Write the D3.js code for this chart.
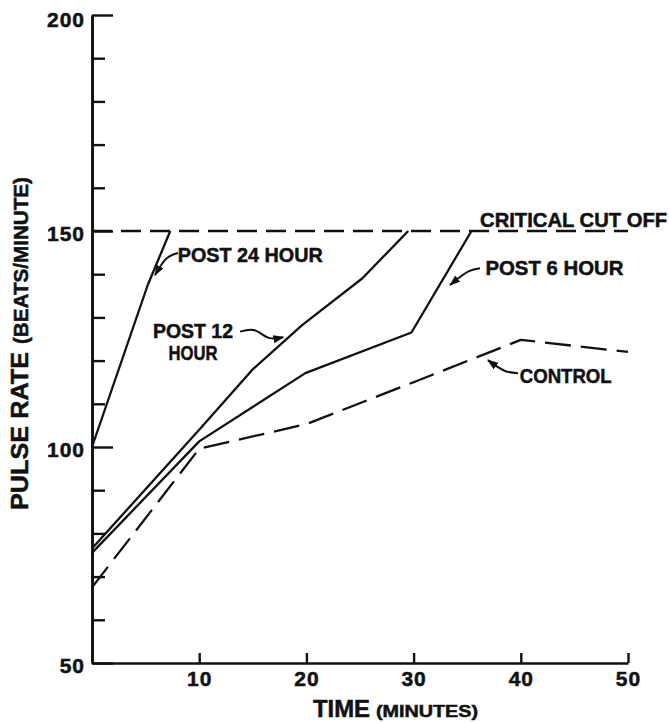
<!DOCTYPE html>
<html>
<head>
<meta charset="utf-8">
<script src="https://cdn.jsdelivr.net/npm/d3@7"></script>
<style>
  html, body { margin: 0; padding: 0; background: #fff; }
  svg { display: block; }
  text { font-family: "Liberation Sans", Arial, sans-serif; font-weight: bold; fill: #111; stroke: #111; stroke-width: 0.5px; }
</style>
</head>
<body>
<svg id="chart" width="669" height="723"></svg>
<script>
// ---- data ----
const xTicks = [10, 20, 30, 40, 50];
const yMajorTicks = [50, 100, 150, 200];
const yMinorTicks = [60, 70, 80, 90, 110, 120, 130, 140, 160, 170, 180, 190];

const post24Time = [0, 5.2, 7.3];
const post24Rate = [100, 137.5, 150];

const post12Time = [0, 10, 15, 19.6, 25.2, 29.5];
const post12Rate = [76.5, 104, 118, 128.2, 139, 150];

const post6Time = [0, 10, 19.9, 29.8, 35.4];
const post6Rate = [75.5, 101.3, 117.1, 126.5, 150];

const controlTime = [0, 10, 20, 30, 40, 50];
const controlRate = [67.5, 99.6, 105.3, 115, 124.8, 122];

const cutoffTime = [0, 50];
const cutoffRate = [150, 150];

// annotation labels (data units)
const labelTexts = ["POST 24 HOUR", "POST 12", "HOUR", "POST 6  HOUR", "CONTROL", "CRITICAL CUT OFF"];
const labelX = [8.0, 9.42, 9.42, 36.7, 39.9, 36.2];
const labelY = [142.8, 125.2, 120.1, 139.8, 114.8, 150.9];

// arrows (data units, from label toward line)
const arrows = [
  [[8.02, 144.9], [7.0, 143.75], [5.88, 139.8]],
  [[13.81, 126.7], [15.05, 127.1], [16.6, 125.2], [17.85, 125.4]],
  [[36.19, 141.4], [35.17, 140.7], [33.4, 137.5]],
  [[39.74, 117.1], [38.53, 117.6], [36.94, 120.1]]
];

// ---- layout ----
const svg = d3.select("#chart");
const x = d3.scaleLinear().domain([0, 50]).range([92, 628]);
const y = d3.scaleLinear().domain([50, 200]).range([663, 15]);

// arrow marker
svg.append("defs").append("marker")
  .attr("id", "ah").attr("markerUnits", "userSpaceOnUse")
  .attr("markerWidth", 11).attr("markerHeight", 8)
  .attr("refX", 10).attr("refY", 4).attr("orient", "auto")
  .append("path").attr("d", "M0,0 L11,4 L0,8 Z").attr("fill", "#111");

// axes
const yMinor = d3.axisLeft(y).tickValues(yMinorTicks).tickSizeInner(-13).tickSizeOuter(0).tickFormat("");
const yMajor = d3.axisLeft(y).tickValues(yMajorTicks).tickSizeInner(-21).tickSizeOuter(0).tickPadding(7);
const xAxis = d3.axisBottom(x).tickValues(xTicks).tickSizeInner(-10).tickSizeOuter(0).tickPadding(8);

const gyMinor = svg.append("g").attr("transform", `translate(${x(0)},0)`).call(yMinor);
const gyMajor = svg.append("g").attr("transform", `translate(${x(0)},0)`).call(yMajor);
const gx = svg.append("g").attr("transform", `translate(0,${y(50)})`).call(xAxis);

[gyMinor, gyMajor, gx].forEach(g => {
  g.attr("font-size", null).attr("font-family", null);
  g.selectAll("path.domain").attr("stroke", "#111").attr("stroke-width", 2.6);
  g.selectAll(".tick line").attr("stroke", "#111").attr("stroke-width", 2.4);
  g.selectAll(".tick text").attr("fill", "#111")
    .attr("font-family", '"Liberation Sans", Arial, sans-serif')
    .attr("font-weight", "bold")
    .attr("font-size", 21)
    .attr("letter-spacing", 1);
});
gyMajor.selectAll(".tick text").attr("transform", d => `translate(0,${d === 200 ? 4.5 : 2.5})`);

// lines
const line = d3.line().x(d => x(d[0])).y(d => y(d[1]));
const zip = (a, b) => a.map((v, i) => [v, b[i]]);

const series = [
  { t: cutoffTime, r: cutoffRate, dash: "20,9" },
  { t: controlTime, r: controlRate, dash: "26,10" },
  { t: post24Time, r: post24Rate, dash: null },
  { t: post12Time, r: post12Rate, dash: null },
  { t: post6Time, r: post6Rate, dash: null }
];
series.forEach(s => {
  svg.append("path")
    .datum(zip(s.t, s.r))
    .attr("d", line)
    .attr("fill", "none")
    .attr("stroke", "#111")
    .attr("stroke-width", 2.3)
    .attr("stroke-linejoin", "round")
    .attr("stroke-dasharray", s.dash);
});

// arrows
const arrowLine = d3.line().x(d => x(d[0])).y(d => y(d[1])).curve(d3.curveCatmullRom);
arrows.forEach(a => {
  svg.append("path").attr("d", arrowLine(a))
    .attr("fill", "none").attr("stroke", "#111").attr("stroke-width", 2)
    .attr("marker-end", "url(#ah)");
});

// labels
const labelWidths = [145, 80, 49, 138, 92, 187];
const labelAnchors = ["start", "middle", "middle", "start", "start", "start"];
labelTexts.forEach((t, i) => {
  svg.append("text")
    .attr("x", x(labelX[i])).attr("y", y(labelY[i]))
    .attr("text-anchor", labelAnchors[i])
    .style("font-size", "20px")
    .attr("textLength", labelWidths[i])
    .attr("lengthAdjust", "spacingAndGlyphs")
    .text(t);
});

// axis titles
svg.append("text").attr("x", 313).attr("y", 717)
  .style("font-size", "23px").attr("textLength", 57).attr("lengthAdjust", "spacingAndGlyphs")
  .text("TIME");
svg.append("text").attr("x", 376).attr("y", 717)
  .style("font-size", "16px").attr("textLength", 102).attr("lengthAdjust", "spacingAndGlyphs")
  .text("(MINUTES)");

const yt = svg.append("g").attr("transform", "translate(28,510) rotate(-90)");
yt.append("text").attr("x", 0).attr("y", 0)
  .style("font-size", "24px").attr("textLength", 158).attr("lengthAdjust", "spacingAndGlyphs")
  .text("PULSE  RATE");
yt.append("text").attr("x", 166).attr("y", 0)
  .style("font-size", "20px").attr("textLength", 167).attr("lengthAdjust", "spacingAndGlyphs")
  .text("(BEATS/MINUTE)");
</script>
</body>
</html>
